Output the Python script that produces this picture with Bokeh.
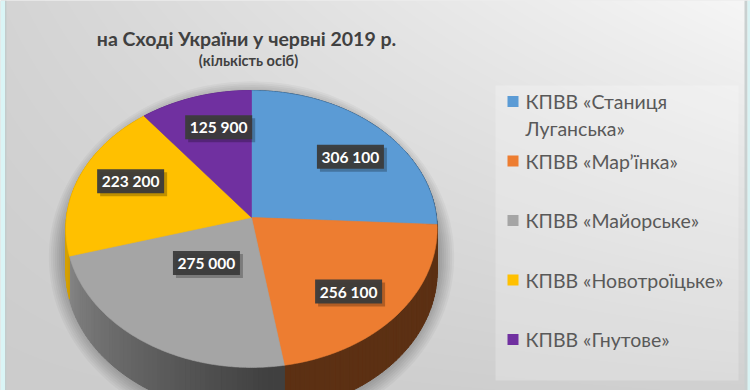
import numpy as np
from bokeh.plotting import figure
from bokeh.models import Range1d
from bokeh.core.properties import value
from bokeh.embed import file_html
from bokeh.resources import INLINE

# ---------------- data ----------------
title_line2 = "на Сході України у червні 2019 р."
title_line3 = "(кількість осіб)"
categories = ["КПВВ «Станиця\nЛуганська»", "КПВВ «Мар’їнка»", "КПВВ «Майорське»",
              "КПВВ «Новотроїцьке»", "КПВВ «Гнутове»"]
values = [306100, 256100, 275000, 223200, 125900]
value_labels = ["306 100", "256 100", "275 000", "223 200", "125 900"]
colors = ["#5b9bd5", "#ed7d31", "#a5a5a5", "#ffc000", "#7030a0"]

# layout: radial placement of each data label (fraction of the pie radius)
LABEL_RADIUS = [0.72, 0.72, 0.40, 0.72, 0.72]
LABEL_ANGLE_SHIFT = np.radians(4.0)

FONT = "Lato"
PW, PH = 750, 390

# ---------------- figure (data units == page pixels) ----------------
p = figure(width=PW, height=PH, x_range=Range1d(0, PW), y_range=Range1d(PH, 0),
           output_backend="svg", toolbar_location=None, min_border=0)
p.axis.visible = False
p.grid.visible = False
p.outline_line_color = None
p.background_fill_color = "#dcdcdc"
p.border_fill_color = "#dcdcdc"

# background gradient
gx = np.arange(0, PW) + 0.5
gy = np.arange(0, PH) + 0.5
GX, GY = np.meshgrid(gx, gy)
t = GY / 390.0
L = (1 - t) * (212 + 0.046 * GX) + t * (204 + 0.006 * GX)
L = np.clip(L, 0, 255).astype(np.uint32)
img = (np.uint32(255) << 24) | (L << 16) | (L << 8) | L
p.image_rgba(image=[img.astype(np.uint32)], x=0, y=0, dw=PW, dh=PH)

# window frame strips
p.quad(left=[0], right=[4.5], top=[0], bottom=[PH], fill_color="#daf5f6", line_color=None)
p.quad(left=[4.5], right=[6], top=[0], bottom=[PH], fill_color="#c3cbcb", line_color=None)
p.quad(left=[744], right=[747], top=[0], bottom=[PH], fill_color="#c9d0d0", line_color=None)
p.quad(left=[747], right=[750], top=[0], bottom=[PH], fill_color="#d9f3f4", line_color=None)

# ---------------- pie geometry ----------------
CX, CY, A, B, PD, DEPTH = 251.0, 217.0, 185.0, 137.5, 0.083, 42.0
vals = np.array(values, dtype=float)
fr = vals / vals.sum()
ends = np.cumsum(fr) * 2 * np.pi
starts = ends - fr * 2 * np.pi


def proj(theta, r=1.0):
    u = r * np.sin(theta)
    v = r * np.cos(theta)
    den = 1 + PD * v
    return CX + A * u / den, CY - B * v / den, den


def shade(hexc, f):
    h = hexc.lstrip("#")
    rgb = [int(h[i:i + 2], 16) for i in (0, 2, 4)]
    return "#%02x%02x%02x" % tuple(max(0, min(255, int(c * f))) for c in rgb)


def light(theta):
    deg = np.degrees(theta) % 360
    if deg <= 175:
        return 0.39
    return 0.39 + 0.45 * min(1.0, (deg - 175) / 85.0)


# soft shadow
th_all = np.linspace(0, 2 * np.pi, 200)
for k in range(9):
    u = np.sin(th_all)
    v = np.cos(th_all)
    den = 1 + PD * v
    sx = CX + (A + 1 + 2.0 * k) * u / den
    sy = CY + DEPTH / 2 + 4 - (B + DEPTH / 2 + 2.0 * k) * v / den
    p.patch(list(sx), list(sy), fill_color="black", fill_alpha=0.035, line_color=None)

# side walls
wxs, wys, wcs = [], [], []
for i, (s, e) in enumerate(zip(starts, ends)):
    n = max(int(np.degrees(e - s) / 1.5), 1)
    th = np.linspace(s, e, n + 1)
    for a, b in zip(th[:-1], th[1:]):
        x1, y1, d1 = proj(a)
        x2, y2, d2 = proj(b)
        wxs.append([x1, x2, x2, x1])
        wys.append([y1, y2, y2 + DEPTH / d2, y1 + DEPTH / d1])
        wcs.append(shade(colors[i], light((a + b) / 2)))
p.patches(wxs, wys, fill_color=wcs, line_color=wcs, line_width=1)

# top faces
txs, tys = [], []
for s, e in zip(starts, ends):
    th = np.linspace(s, e, max(int(np.degrees(e - s)), 4) * 2)
    x, y, _ = proj(th)
    txs.append([CX] + list(x))
    tys.append([CY] + list(y))
p.patches(txs, tys, fill_color=colors, line_color=colors, line_width=0.6)

# data labels
mids = (starts + ends) / 2 + LABEL_ANGLE_SHIFT
lx, ly, _ = proj(mids, np.array(LABEL_RADIUS))
lx = list(lx)
ly = list(ly)
p.rect(x=[v + 3 for v in lx], y=[v + 3 for v in ly], width=67, height=24,
       fill_color="black", fill_alpha=0.25, line_color=None)
p.rect(x=lx, y=ly, width=67, height=24, fill_color="#3b3b3b", fill_alpha=0.95,
       line_color=None)
p.text(x=lx, y=ly, text=value_labels, text_align="center", text_baseline="middle",
       text_color="white", text_font=value(FONT), text_font_style="bold",
       text_font_size="15.5px")

# title
p.text(x=[246], y=[38], text=[title_line2], text_align="center", text_baseline="alphabetic",
       text_color="#404040", text_font=value(FONT), text_font_style="bold",
       text_font_size="19.5px")
p.text(x=[248], y=[60], text=[title_line3], text_align="center", text_baseline="alphabetic",
       text_color="#404040", text_font=value(FONT), text_font_style="bold",
       text_font_size="14.5px")

# legend
p.quad(left=[495], right=[738], top=[85], bottom=[380], fill_color="white",
       fill_alpha=0.23, line_color=None)
sq_y = [101 + i * 59.5 for i in range(len(categories))]
p.scatter(x=[512.5] * len(categories), y=sq_y, marker="square", size=11,
          fill_color=colors, line_color=None)
leg_x, leg_y, leg_t = [], [], []
for i, lab in enumerate(categories):
    for j, line in enumerate(lab.split("\n")):
        leg_x.append(525)
        leg_y.append(sq_y[i] + j * 27)
        leg_t.append(line)
p.text(x=leg_x, y=leg_y, text=leg_t, text_align="left", text_baseline="middle",
       text_color="#595959", text_font=value(FONT), text_font_size="19.5px")

open("out.html", "w").write(file_html(p, INLINE))
